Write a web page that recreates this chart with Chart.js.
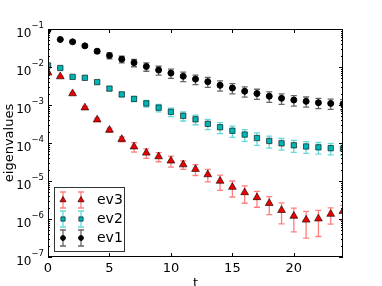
<!DOCTYPE html>
<html>
<head>
<meta charset="utf-8">
<script src="https://cdn.jsdelivr.net/npm/chart.js@4.4.0/dist/chart.umd.min.js"></script>
<style>html,body{margin:0;padding:0;background:#fff}</style>
</head>
<body>
<canvas id="evChart" width="382" height="286"></canvas>
<script>
const tVals = [0,1,2,3,4,5,6,7,8,9,10,11,12,13,14,15,16,17,18,19,20,21,22,23,24];

const ev1 = [0.094,0.053,0.046,0.036,0.026,0.020,0.016,0.013,0.0103,0.0083,0.0069,0.0057,0.0048,
  0.0041,0.0033,0.0028,0.0023,0.0020,0.0017,0.0015,0.00135,0.00125,0.00115,0.0011,0.00107];
const ev1Err = [0.02,0.04,0.05,0.08,0.12,0.18,0.2,0.22,0.25,0.26,0.27,0.28,0.28,
  0.29,0.3,0.3,0.3,0.3,0.31,0.31,0.31,0.3,0.3,0.3,0.3];

const ev2 = [0.011,0.0094,0.0055,0.0052,0.0040,0.0027,0.0019,0.00145,0.0011,0.00085,0.00066,0.00052,0.00042,
  0.00032,0.00026,0.00021,0.000167,0.000135,0.000113,0.000098,0.000087,0.000081,0.000077,0.000073,0.000071];
const ev2Err = [0.02,0.03,0.05,0.06,0.08,0.1,0.13,0.15,0.2,0.22,0.25,0.27,0.28,
  0.3,0.32,0.33,0.34,0.36,0.35,0.34,0.35,0.34,0.34,0.33,0.33];

const ev3 = [0.0071,0.0056,0.0020,0.00085,0.00041,0.00022,0.000126,0.000080,0.000055,0.000044,0.000034,0.000027,0.0000205,
  0.0000148,0.0000100,0.0000069,0.0000050,0.0000037,0.0000026,0.0000017,0.0000012,0.00000095,0.00000102,0.00000135,0.0000016];
const ev3Err = [0.02,0.04,0.06,0.08,0.1,0.12,0.15,0.28,0.28,0.27,0.32,0.25,0.32,
  0.36,0.43,0.45,0.48,0.45,0.5,0.56,0.62,0.67,0.66,0.46,0.42];

const xTicks = [0,5,10,15,20];
const yExponents = [-7,-6,-5,-4,-3,-2,-1];

const toPoints = vals => tVals.map((t, i) => ({x: t, y: vals[i]}));

// error bars, drawn under the markers
const errorBars = {
  id: 'errorBars',
  beforeDatasetsDraw(chart) {
    const {ctx, chartArea: a, scales: {x, y}} = chart;
    ctx.save();
    ctx.beginPath();
    ctx.rect(a.left, a.top, a.right - a.left, a.bottom - a.top);
    ctx.clip();
    chart.data.datasets.forEach(ds => {
      ctx.strokeStyle = ds.errColor;
      ctx.lineWidth = 1.3;
      ds.data.forEach((p, i) => {
        const e = p.y * ds.relErr[i];
        const px = x.getPixelForValue(p.x);
        const y1 = y.getPixelForValue(p.y + e);
        const y2 = y.getPixelForValue(p.y - e);
        ctx.beginPath();
        ctx.moveTo(px, y1); ctx.lineTo(px, y2);
        ctx.moveTo(px - 3, y1); ctx.lineTo(px + 3, y1);
        ctx.moveTo(px - 3, y2); ctx.lineTo(px + 3, y2);
        ctx.stroke();
      });
    });
    ctx.restore();
  }
};

// frame, inward ticks, y labels with exponents, legend
const frameAndLegend = {
  id: 'frameAndLegend',
  afterDraw(chart) {
    const {ctx, chartArea: a, scales: {x, y}} = chart;
    ctx.save();
    ctx.strokeStyle = '#000';
    ctx.lineWidth = 1;
    ctx.strokeRect(a.left + 0.5, a.top + 0.5, a.right - a.left - 1, a.bottom - a.top - 1);

    ctx.beginPath();
    xTicks.forEach(v => {
      const px = Math.round(x.getPixelForValue(v)) + 0.5;
      ctx.moveTo(px, a.bottom); ctx.lineTo(px, a.bottom - 4);
      ctx.moveTo(px, a.top); ctx.lineTo(px, a.top + 4);
    });
    yExponents.forEach(k => {
      for (let m = 1; m < 10; m++) {
        if (k === -1 && m > 1) break;
        const py = Math.round(y.getPixelForValue(m * Math.pow(10, k))) + 0.5;
        const len = m === 1 ? 4 : 2;
        ctx.moveTo(a.left, py); ctx.lineTo(a.left + len, py);
        ctx.moveTo(a.right, py); ctx.lineTo(a.right - len, py);
      }
    });
    ctx.stroke();

    ctx.fillStyle = '#000';
    ctx.textBaseline = 'alphabetic';
    yExponents.forEach(k => {
      const py = y.getPixelForValue(Math.pow(10, k));
      const sup = '\u2212' + Math.abs(k);
      ctx.font = '8.5px "DejaVu Sans"';
      const ws = ctx.measureText(sup).width;
      ctx.textAlign = 'right';
      ctx.fillText(sup, 44, py - 1);
      ctx.font = '12px "DejaVu Sans"';
      ctx.fillText('10', 44 - ws, py + 7.5);
    });

    // legend
    const lx = 54, ly = 187, lw = 70, lh = 64;
    ctx.fillStyle = '#fff';
    ctx.fillRect(lx, ly, lw, lh);
    ctx.strokeStyle = '#333';
    ctx.strokeRect(lx + 0.5, ly + 0.5, lw, lh);
    const order = [2, 1, 0];
    order.forEach((di, row) => {
      const ds = chart.data.datasets[di];
      const cy = 200 + row * 19;
      [63, 81].forEach(cx => {
        ctx.strokeStyle = ds.errColor;
        ctx.lineWidth = 1.3;
        ctx.beginPath();
        ctx.moveTo(cx, cy - 8); ctx.lineTo(cx, cy + 8);
        ctx.moveTo(cx - 3, cy - 8); ctx.lineTo(cx + 3, cy - 8);
        ctx.moveTo(cx - 3, cy + 8); ctx.lineTo(cx + 3, cy + 8);
        ctx.stroke();
        ctx.fillStyle = ds.backgroundColor;
        ctx.strokeStyle = ds.borderColor;
        ctx.lineWidth = 1;
        Chart.helpers.drawPoint(ctx, {pointStyle: ds.pointStyle, radius: ds.pointRadius * 0.8, rotation: 0, borderWidth: 1}, cx, cy);
      });
      ctx.fillStyle = '#000';
      ctx.font = '14px "DejaVu Sans"';
      ctx.textAlign = 'left';
      ctx.textBaseline = 'middle';
      ctx.fillText(ds.label, 97, cy);
    });
    ctx.restore();
  }
};

new Chart(document.getElementById('evChart'), {
  type: 'scatter',
  data: {
    datasets: [
      {label: 'ev1', data: toPoints(ev1), relErr: ev1Err, errColor: 'rgba(0,0,0,0.6)',
        pointStyle: 'circle', pointRadius: 3, backgroundColor: '#000', borderColor: '#000', borderWidth: 1},
      {label: 'ev2', data: toPoints(ev2), relErr: ev2Err, errColor: 'rgba(0,191,191,0.6)',
        pointStyle: 'rect', pointRadius: 3.8, backgroundColor: '#00b5b5', borderColor: 'rgba(0,0,0,0.6)', borderWidth: 1},
      {label: 'ev3', data: toPoints(ev3), relErr: ev3Err, errColor: 'rgba(255,0,0,0.5)',
        pointStyle: 'triangle', pointRadius: 4.5, backgroundColor: '#ee0000', borderColor: 'rgba(0,0,0,0.6)', borderWidth: 1}
    ]
  },
  options: {
    responsive: false,
    animation: false,
    clip: 0,
    layout: {padding: {left: 0, right: 39, top: 29, bottom: 0}},
    plugins: {legend: {display: false}, tooltip: {enabled: false}},
    scales: {
      x: {
        type: 'linear', min: 0, max: 24,
        afterBuildTicks: s => { s.ticks = xTicks.map(v => ({value: v})); },
        afterFit: s => { s.height = 29; },
        grid: {display: false}, border: {display: false},
        ticks: {color: '#000', padding: -4, font: {family: 'DejaVu Sans', size: 13}},
        title: {display: true, text: 't', color: '#000', padding: {top: 0, bottom: -3}, font: {family: 'DejaVu Sans', size: 13, lineHeight: 0.9}}
      },
      y: {
        type: 'logarithmic', min: 1e-7, max: 1e-1,
        afterFit: s => { s.width = 48; },
        grid: {display: false}, border: {display: false},
        ticks: {display: false},
        title: {display: true, text: 'eigenvalues', color: '#000', padding: {top: 2, bottom: 0}, font: {family: 'DejaVu Sans', size: 13}}
      }
    }
  },
  plugins: [errorBars, frameAndLegend]
});
</script>
</body>
</html>
